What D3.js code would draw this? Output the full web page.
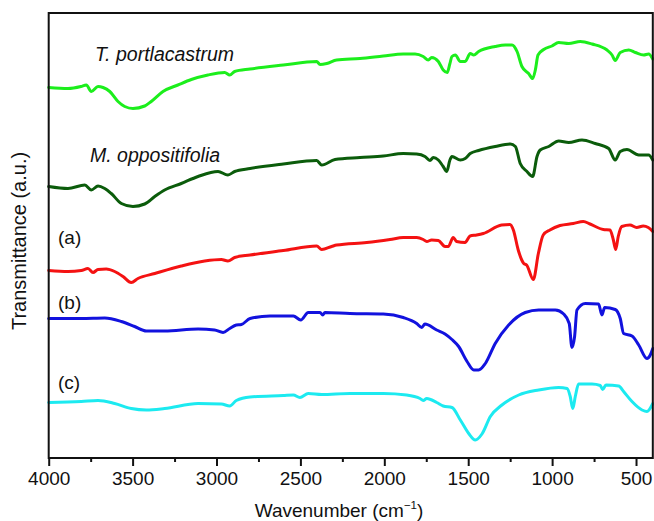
<!DOCTYPE html>
<html>
<head>
<meta charset="utf-8">
<script src="https://cdn.jsdelivr.net/npm/d3@7"></script>
<style>
  html, body { margin: 0; padding: 0; background: #fff; }
  svg { display: block; }
  text { font-family: "Liberation Sans", Arial, Helvetica, sans-serif; fill: #111; }
</style>
</head>
<body>
<svg id="chart" width="654" height="521"></svg>
<script>
// FTIR spectra: [wavenumber (cm^-1), transmittance (a.u., stacked with offsets)]
const tPortlacastrum = [
  [4000,74.1],[3885,73.9],[3808,74.3],[3776,74.6],[3746,73.3],[3706,74.3],[3676,74.1],
  [3636,73.3],[3587,71.3],[3547,70.3],[3498,69.9],[3428,70.4],[3389,71.3],[3319,73.3],
  [3230,74.6],[3150,75.7],[3051,76.6],[2951,77.1],[2921,76.6],[2892,77.3],[2800,77.8],
  [2602,78.6],[2403,79.3],[2383,78.7],[2343,78.9],[2284,79.6],[2145,79.9],[2006,80.4],
  [1887,80.8],[1817,80.8],[1768,80.3],[1738,79.6],[1718,80.1],[1678,79.3],[1649,77.6],
  [1625,77.1],[1609,78.9],[1597,80.3],[1577,80.6],[1547,79.3],[1518,79.3],[1488,80.9],
  [1467,80.6],[1438,81.3],[1339,82.3],[1279,82.6],[1239,82.6],[1209,81.3],[1180,78.3],
  [1140,76.9],[1116,75.9],[1100,77.6],[1084,80.6],[1050,81.7],[1001,82.4],[961,83.1],
  [901,82.9],[832,83.3],[762,82.8],[673,81.6],[643,80.6],[624,79.5],[594,81.1],
  [543,81.6],[504,81.1],[454,80.6],[425,80.8],[400,79.8]
];
const mOppositifolia = [
  [4000,54.3],[3885,53.9],[3785,54.6],[3746,53.6],[3706,54.4],[3666,53.9],[3627,52.9],
  [3567,50.9],[3498,50.3],[3428,50.8],[3368,52.3],[3309,53.6],[3210,54.9],[3110,56.3],
  [2991,57.3],[2932,56.6],[2892,57.3],[2800,57.9],[2602,58.8],[2403,59.5],[2373,58.6],
  [2294,59.7],[2145,60.1],[2006,60.4],[1887,60.9],[1807,60.8],[1758,60.3],[1728,59.5],
  [1708,60.1],[1678,59.6],[1649,58.3],[1628,57.3],[1609,59.6],[1597,60.3],[1547,59.6],
  [1518,59.9],[1488,60.9],[1438,61.5],[1339,62.3],[1249,62.8],[1219,62.3],[1190,58.9],
  [1150,57.3],[1116,56.3],[1090,60.3],[1071,61.6],[1020,62.3],[961,63.4],[901,63.1],
  [822,63.6],[743,62.9],[663,61.9],[624,59.6],[594,61.3],[554,61.7],[484,60.6],
  [425,60.6],[400,59.6]
];
const sampleA = [
  [4000,37.5],[3885,37.3],[3806,37.5],[3766,37.9],[3736,37.1],[3706,37.7],[3657,37.8],
  [3607,37.3],[3557,36.3],[3508,35.1],[3468,35.9],[3368,36.9],[3210,38.4],[3070,39.4],
  [2971,39.7],[2932,39.4],[2892,40.1],[2800,40.6],[2602,41.5],[2403,42.4],[2373,41.7],
  [2314,42.3],[2284,42.6],[2105,43.1],[1966,43.7],[1887,44.1],[1807,44.1],[1768,43.7],
  [1747,43.3],[1718,43.6],[1678,43.5],[1638,42.3],[1619,42.3],[1589,44.1],[1569,43.3],
  [1519,43.1],[1489,44.4],[1450,44.6],[1410,44.9],[1301,46.6],[1251,46.7],[1231,45.6],
  [1202,41.6],[1181,39.6],[1169,38.9],[1152,38.6],[1112,35.7],[1082,40.9],[1053,44.6],
  [1013,45.6],[953,46.5],[874,46.9],[814,47.3],[774,46.8],[695,45.7],[655,45.6],
  [635,43.6],[621,41.7],[606,44.3],[585,46.3],[536,46.6],[496,46.1],[457,46.4],
  [427,46.1],[400,45.3]
];
const sampleB = [
  [4000,27.9],[3806,27.9],[3666,28.0],[3567,27.3],[3488,26.3],[3418,25.4],[3309,25.4],
  [3110,25.8],[3011,25.6],[2961,25.1],[2921,25.9],[2882,26.6],[2852,26.7],[2800,27.9],
  [2681,28.4],[2542,28.4],[2498,27.6],[2453,29.1],[2383,29.1],[2367,28.6],[2354,29.1],
  [2205,28.9],[2006,28.8],[1887,28.1],[1807,26.9],[1777,26.1],[1758,26.8],[1688,25.6],
  [1638,24.8],[1597,23.7],[1557,22.3],[1507,19.3],[1467,17.6],[1438,17.6],[1398,18.9],
  [1339,22.9],[1259,26.6],[1160,29.1],[1080,29.6],[981,29.6],[931,28.8],[898,26.9],
  [882,22.1],[866,24.3],[852,29.6],[802,30.9],[723,30.8],[703,28.6],[687,30.1],
  [624,29.7],[594,27.9],[574,24.9],[524,24.4],[484,22.6],[435,19.9],[415,20.6],[400,21.9]
];
const sampleC = [
  [4000,11.1],[3806,11.3],[3706,11.5],[3607,10.9],[3508,9.9],[3418,9.6],[3309,9.9],
  [3110,10.9],[2971,10.8],[2921,10.4],[2882,11.5],[2800,12.2],[2602,12.5],[2542,12.6],
  [2503,12.1],[2453,12.9],[2373,12.7],[2205,12.9],[2006,12.9],[1867,12.6],[1787,11.9],
  [1768,11.5],[1747,11.9],[1688,11.1],[1649,10.4],[1597,10.1],[1547,7.6],[1497,4.9],
  [1458,3.6],[1418,4.8],[1368,8.3],[1299,10.6],[1199,12.6],[1080,13.6],[961,14.1],
  [911,13.9],[892,12.3],[877,9.9],[862,12.3],[842,14.8],[762,14.8],[713,14.5],
  [699,13.7],[679,14.6],[603,14.4],[574,13.3],[524,11.3],[464,9.6],[435,9.3],[400,10.9]
];

const seriesNames = ["T. portlacastrum", "M. oppositifolia", "(a)", "(b)", "(c)"];
const seriesColors = ["#1cee1c", "#0b5c0b", "#f41212", "#1212de", "#1ceaf0"];
const seriesData = [tPortlacastrum, mOppositifolia, sampleA, sampleB, sampleC];

const majorTicks = [4000, 3500, 3000, 2500, 2000, 1500, 1000, 500];
const minorTicks = [3750, 3250, 2750, 2250, 1750, 1250, 750];
const xTitle = "Wavenumber (cm";
const yTitle = "Transmittance (a.u.)";

const svg = d3.select("#chart");
const plotLeft = 48.7, plotRight = 652.8, plotTop = 13, plotBottom = 458;

const x = d3.scaleLinear().domain([4000, 400]).range([plotLeft, plotRight]);
const y = d3.scaleLinear().domain([0, 89]).range([plotBottom, plotTop]);

// Spectra
const line = d3.line()
  .x(d => x(d[0]))
  .y(d => y(d[1]))
  .curve(d3.curveMonotoneX);

svg.append("g")
  .selectAll("path")
  .data(seriesData)
  .join("path")
  .attr("d", line)
  .attr("fill", "none")
  .attr("stroke", (d, i) => seriesColors[i])
  .attr("stroke-width", 3)
  .attr("stroke-linejoin", "round")
  .attr("stroke-linecap", "round");

// Frame
svg.append("rect")
  .attr("x", plotLeft).attr("y", plotTop)
  .attr("width", plotRight - plotLeft).attr("height", plotBottom - plotTop)
  .attr("fill", "none")
  .attr("stroke", "#111")
  .attr("stroke-width", 2);

// Bottom axis: major ticks with labels, minor ticks between
const axisMajor = d3.axisBottom(x)
  .tickValues(majorTicks)
  .tickSize(8)
  .tickPadding(6)
  .tickFormat(d3.format("d"));
const gMajor = svg.append("g")
  .attr("transform", `translate(0,${plotBottom})`)
  .call(axisMajor);
gMajor.select(".domain").remove();
gMajor.selectAll(".tick line").attr("stroke", "#111").attr("stroke-width", 2);
gMajor.selectAll(".tick text")
  .attr("font-size", 19)
  .attr("font-family", "Liberation Sans, Arial, sans-serif")
  .attr("fill", "#111");

const axisMinor = d3.axisBottom(x)
  .tickValues(minorTicks)
  .tickSize(4)
  .tickFormat("");
const gMinor = svg.append("g")
  .attr("transform", `translate(0,${plotBottom})`)
  .call(axisMinor);
gMinor.select(".domain").remove();
gMinor.selectAll(".tick line").attr("stroke", "#111").attr("stroke-width", 2);

// Axis titles
const xt = svg.append("text")
  .attr("x", 339).attr("y", 517)
  .attr("text-anchor", "middle")
  .attr("font-size", 19);
xt.append("tspan").text(xTitle);
xt.append("tspan").text("\u22121").attr("font-size", 11.5).attr("dy", -8);
xt.append("tspan").text(")").attr("dy", 8);

svg.append("text")
  .attr("transform", "translate(26,241) rotate(-90)")
  .attr("text-anchor", "middle")
  .attr("font-size", 20)
  .text(yTitle);

// Series labels
const labelPos = [
  { x: 95, y: 61, italic: true },
  { x: 90, y: 162, italic: true },
  { x: 58, y: 244, italic: false },
  { x: 58, y: 309, italic: false },
  { x: 58, y: 389, italic: false }
];
svg.append("g")
  .selectAll("text")
  .data(seriesNames)
  .join("text")
  .attr("x", (d, i) => labelPos[i].x)
  .attr("y", (d, i) => labelPos[i].y)
  .attr("font-size", (d, i) => labelPos[i].italic ? 19.5 : 19)
  .attr("font-style", (d, i) => labelPos[i].italic ? "italic" : "normal")
  .text(d => d);
</script>
</body>
</html>
